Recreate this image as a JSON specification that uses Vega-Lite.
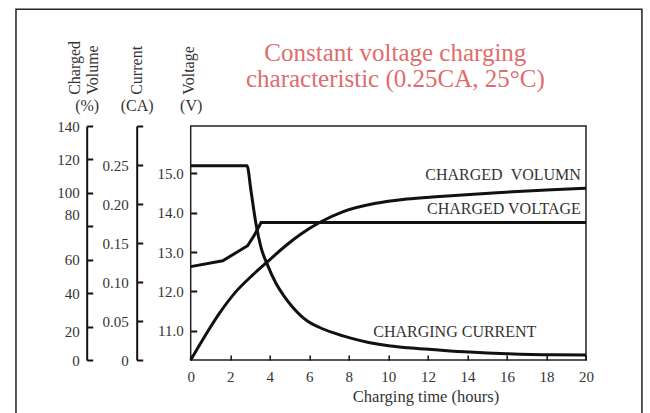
{
  "$schema": "https://vega.github.io/schema/vega-lite/v6.json",
  "width": 395.3,
  "height": 234,
  "autosize": "none",
  "padding": {"left": 190.7, "top": 126, "right": 64, "bottom": 53},
  "datasets": {
    "volume": [
      {"t": 0, "v": 0}, {"t": 0.6, "v": 12}, {"t": 1.45, "v": 27.9}, {"t": 2.29, "v": 40.9},
      {"t": 3.14, "v": 50.9}, {"t": 3.98, "v": 59.8}, {"t": 4.82, "v": 68.5}, {"t": 5.6, "v": 75.5},
      {"t": 6.54, "v": 82.4}, {"t": 7.72, "v": 88.8}, {"t": 9.3, "v": 93.6}, {"t": 10.93, "v": 96.3},
      {"t": 12.6, "v": 97.8}, {"t": 15.48, "v": 100.1}, {"t": 18, "v": 101.7}, {"t": 20, "v": 102.7}
    ],
    "current": [
      {"t": 0, "c": 0.249}, {"t": 2.85, "c": 0.249}, {"t": 3.05, "c": 0.217}, {"t": 3.3, "c": 0.175},
      {"t": 3.55, "c": 0.145}, {"t": 3.9, "c": 0.121}, {"t": 4.3, "c": 0.099}, {"t": 4.75, "c": 0.081},
      {"t": 5.15, "c": 0.068}, {"t": 5.9, "c": 0.05}, {"t": 6.5, "c": 0.042}, {"t": 7.2, "c": 0.035},
      {"t": 8.1, "c": 0.028}, {"t": 9, "c": 0.0225}, {"t": 10.1, "c": 0.018}, {"t": 11, "c": 0.0157},
      {"t": 12.2, "c": 0.0135}, {"t": 14.1, "c": 0.0102}, {"t": 16, "c": 0.008}, {"t": 18.3, "c": 0.0066},
      {"t": 20, "c": 0.0064}
    ],
    "voltage": [
      {"t": 0, "u": 12.63}, {"t": 1.62, "u": 12.78}, {"t": 2.88, "u": 13.16}, {"t": 3.22, "u": 13.43},
      {"t": 3.56, "u": 13.75}, {"t": 20, "u": 13.75}
    ],
    "labels": [
      {"series": "volume", "label": "CHARGED\u00a0\u00a0VOLUMN", "t": 19.74, "y": 107.7},
      {"series": "voltage", "label": "CHARGED VOLTAGE", "t": 19.74, "y": 13.96},
      {"series": "current", "label": "CHARGING CURRENT", "t": 17.49, "y": 0.03}
    ]
  },
  "title": {
    "text": ["Constant voltage charging", "characteristic (0.25CA, 25°C)"],
    "font": "Liberation Serif",
    "fontSize": 25,
    "fontWeight": "normal",
    "color": "#e06c6c",
    "anchor": "middle",
    "frame": "group",
    "lineHeight": 25.5,
    "baseline": "top",
    "offset": 0,
    "dx": 7,
    "dy": 83
  },
  "layer": [
    {
      "data": {"values": [{}]},
      "mark": {"type": "rect", "fillOpacity": 0, "stroke": "#222", "strokeWidth": 1.5},
      "encoding": {
        "x": {"datum": -8.84, "type": "quantitative", "scale": {"domain": [0, 20], "nice": false}},
        "x2": {"datum": 22.83},
        "y": {"datum": 209.8, "type": "quantitative", "scale": {"domain": [0, 140], "nice": false}, "axis": null},
        "y2": {"datum": -40}
      }
    },
    {
      "data": {"name": "volume"},
      "mark": {"type": "line", "stroke": "#111", "strokeWidth": 3, "interpolate": "monotone"},
      "encoding": {
        "x": {
          "field": "t", "type": "quantitative",
          "scale": {"domain": [0, 20], "nice": false},
          "axis": {
            "orient": "bottom", "values": [0, 2, 4, 6, 8, 10, 12, 14, 16, 18, 20], "tickCount": 30, "format": "d",
            "tickSize": -5, "tickWidth": 1.5, "tickColor": "#111", "domain": false, "labelOverlap": false,
            "labelFlush": false, "labelPadding": 14.3, "labelFont": "Liberation Serif", "labelFontSize": 15, "labelColor": "#333",
            "title": "Charging time (hours)", "titleFont": "Liberation Serif", "titleFontSize": 16.5,
            "titleFontWeight": "normal", "titleColor": "#333", "titleX": 234.8, "titleY": 41.5,
            "titleAlign": "center", "titleBaseline": "alphabetic", "grid": false
          }
        },
        "y": {
          "field": "v", "type": "quantitative",
          "scale": {"domain": [0, 140], "nice": false},
          "axis": {
            "orient": "left", "offset": 104, "values": [0, 20, 40, 60, 80, 100, 120, 140], "tickCount": 30, "format": "d",
            "tickSize": -6, "tickWidth": 2, "tickColor": "#111", "domainColor": "#111", "domainWidth": 2,
            "labelOverlap": false, "labelPadding": 13.5, "labelFont": "Liberation Serif", "labelFontSize": 15, "labelColor": "#333",
            "labelOffset": {"condition": [{"test": "datum.value == 80", "value": -12}, {"test": "datum.value == 20", "value": 5}], "value": 0},
            "title": ["Charged", "Volume"], "titleAngle": 270, "titleAlign": "left", "titleBaseline": "alphabetic",
            "titleX": -7, "titleY": -31.7, "titleFont": "Liberation Serif", "titleFontSize": 16,
            "titleFontWeight": "normal", "titleColor": "#333", "titleLineHeight": 18, "grid": false
          }
        }
      }
    },
    {
      "data": {"name": "labels"},
      "transform": [{"filter": "datum.series == 'volume'"}],
      "mark": {"type": "text", "align": "right", "baseline": "alphabetic", "font": "Liberation Serif", "fontSize": 16, "color": "#333"},
      "encoding": {
        "x": {"field": "t", "type": "quantitative"},
        "y": {
          "field": "y", "type": "quantitative",
          "scale": {"domain": [0, 140], "nice": false},
          "axis": {
            "orient": "left", "offset": 104, "domain": false, "ticks": false, "labels": false, "grid": false,
            "title": "(%)", "titleAngle": 0, "titleAlign": "center", "titleBaseline": "alphabetic",
            "titleX": 0, "titleY": -16, "titleFont": "Liberation Serif", "titleFontSize": 16,
            "titleFontWeight": "normal", "titleColor": "#333"
          }
        },
        "text": {"field": "label"}
      }
    },
    {
      "data": {"name": "current"},
      "mark": {"type": "line", "stroke": "#111", "strokeWidth": 3, "interpolate": "monotone"},
      "encoding": {
        "x": {"field": "t", "type": "quantitative"},
        "y": {
          "field": "c", "type": "quantitative",
          "scale": {"domain": [0, 0.3], "nice": false},
          "axis": {
            "orient": "left", "offset": 54, "values": [0, 0.05, 0.1, 0.15, 0.2, 0.25, 0.3], "tickCount": 30,
            "labelExpr": "datum.value > 0.29 ? '' : (datum.value == 0 ? '0' : format(datum.value, '.2f'))",
            "tickSize": -6, "tickWidth": 2, "tickColor": "#111", "domainColor": "#111", "domainWidth": 2,
            "labelOverlap": false, "labelPadding": 14.4, "labelFont": "Liberation Serif", "labelFontSize": 15, "labelColor": "#333",
            "title": "Current", "titleAngle": 270, "titleAlign": "left", "titleBaseline": "alphabetic",
            "titleX": 5, "titleY": -31.7, "titleFont": "Liberation Serif", "titleFontSize": 16,
            "titleFontWeight": "normal", "titleColor": "#333", "grid": false
          }
        }
      }
    },
    {
      "data": {"name": "labels"},
      "transform": [{"filter": "datum.series == 'current'"}],
      "mark": {"type": "text", "align": "right", "baseline": "alphabetic", "font": "Liberation Serif", "fontSize": 16, "color": "#333"},
      "encoding": {
        "x": {"field": "t", "type": "quantitative"},
        "y": {
          "field": "y", "type": "quantitative",
          "scale": {"domain": [0, 0.3], "nice": false},
          "axis": {
            "orient": "left", "offset": 54, "domain": false, "ticks": false, "labels": false, "grid": false,
            "title": "(CA)", "titleAngle": 0, "titleAlign": "center", "titleBaseline": "alphabetic",
            "titleX": 0, "titleY": -16, "titleFont": "Liberation Serif", "titleFontSize": 16,
            "titleFontWeight": "normal", "titleColor": "#333"
          }
        },
        "text": {"field": "label"}
      }
    },
    {
      "data": {"name": "voltage"},
      "mark": {"type": "line", "stroke": "#111", "strokeWidth": 3},
      "encoding": {
        "x": {"field": "t", "type": "quantitative"},
        "y": {
          "field": "u", "type": "quantitative",
          "scale": {"domain": [10.26, 16.2], "nice": false, "zero": false},
          "axis": {
            "orient": "left", "offset": 0, "values": [11, 12, 13, 14, 15], "tickCount": 30, "format": ".1f",
            "tickSize": -6, "tickWidth": 2, "tickColor": "#111", "domain": false,
            "labelOverlap": false, "labelPadding": 13.4, "labelFont": "Liberation Serif", "labelFontSize": 15, "labelColor": "#333",
            "title": "Voltage", "titleAngle": 270, "titleAlign": "left", "titleBaseline": "alphabetic",
            "titleX": 2.8, "titleY": -31.7, "titleFont": "Liberation Serif", "titleFontSize": 16,
            "titleFontWeight": "normal", "titleColor": "#333", "grid": false
          }
        }
      }
    },
    {
      "data": {"name": "labels"},
      "transform": [{"filter": "datum.series == 'voltage'"}],
      "mark": {"type": "text", "align": "right", "baseline": "alphabetic", "font": "Liberation Serif", "fontSize": 16, "color": "#333"},
      "encoding": {
        "x": {"field": "t", "type": "quantitative"},
        "y": {
          "field": "y", "type": "quantitative",
          "scale": {"domain": [10.26, 16.2], "nice": false, "zero": false},
          "axis": {
            "orient": "left", "offset": 0, "domain": false, "ticks": false, "labels": false, "grid": false,
            "title": "(V)", "titleAngle": 0, "titleAlign": "center", "titleBaseline": "alphabetic",
            "titleX": 0, "titleY": -16, "titleFont": "Liberation Serif", "titleFontSize": 16,
            "titleFontWeight": "normal", "titleColor": "#333"
          }
        },
        "text": {"field": "label"}
      }
    }
  ],
  "resolve": {"scale": {"y": "independent"}, "axis": {"y": "independent"}},
  "config": {
    "view": {"stroke": "#222", "strokeWidth": 1.5},
    "axis": {"grid": false},
    "background": "white"
  }
}
